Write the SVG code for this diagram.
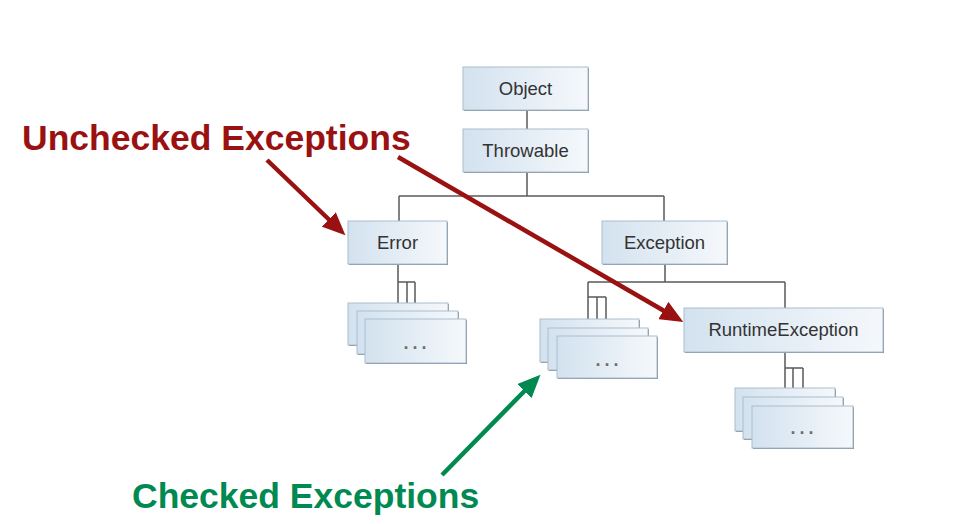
<svg xmlns="http://www.w3.org/2000/svg" width="959" height="524" viewBox="0 0 959 524">
<style>
.box{fill:url(#g);stroke:#a9bdcd;stroke-width:1}
.sh{fill:#7f8b97}
.lbl{font-family:"Liberation Sans",Arial,sans-serif;font-size:18.5px;fill:#333;text-anchor:middle}
.dots{font-family:"Liberation Sans",Arial,sans-serif;font-size:18px;font-weight:bold;fill:#6f6f6f;text-anchor:middle;letter-spacing:4px}
.ln{stroke:#5a5a5a;stroke-width:1.5;fill:none}
.big{font-family:"Liberation Sans",Arial,sans-serif;font-weight:bold;font-size:35.5px}
</style>
<defs>
<linearGradient id="g" x1="0" y1="0" x2="1" y2="0">
<stop offset="0" stop-color="#d3e2ef"/>
<stop offset="1" stop-color="#f5f8fb"/>
</linearGradient>
<marker id="ar" markerUnits="userSpaceOnUse" markerWidth="24" markerHeight="20" refX="3" refY="10" orient="auto">
<path d="M0,0 L23,10 L0,20 z" fill="#9a1111"/>
</marker>
<marker id="ag" markerUnits="userSpaceOnUse" markerWidth="24" markerHeight="20" refX="3" refY="10" orient="auto">
<path d="M0,0 L23,10 L0,20 z" fill="#008a52"/>
</marker>
</defs>
<g id="connectors">
<path class="ln" d="M527,110 V129"/>
<path class="ln" d="M527,172 V196 M399,196 H664 M399,196 V221 M664,196 V221"/>
<path class="ln" d="M398,264 V303 M398,282 H415 M407,282 V312 M415,282 V319"/>
<path class="ln" d="M665,264 V282 M588,282 H785 M588,282 V319 M588,297 H606 M597,297 V328 M606,297 V336 M785,282 V308"/>
<path class="ln" d="M785,352 V388 M785,368 H803 M793,368 V397 M803,368 V406"/>
</g>
<g id="node-object"><rect class="sh" x="464" y="68" width="125" height="43"/><rect class="box" x="463" y="67" width="125" height="43"/><text class="lbl" x="525.5" y="95">Object</text></g>
<g id="node-throwable"><rect class="sh" x="464" y="130" width="125" height="43"/><rect class="box" x="463" y="129" width="125" height="43"/><text class="lbl" x="525.5" y="157">Throwable</text></g>
<g id="node-error"><rect class="sh" x="349" y="222" width="99" height="43"/><rect class="box" x="348" y="221" width="99" height="43"/><text class="lbl" x="397.5" y="249">Error</text></g>
<g id="node-exception"><rect class="sh" x="603" y="222" width="125" height="43"/><rect class="box" x="602" y="221" width="125" height="43"/><text class="lbl" x="664.5" y="249">Exception</text></g>
<g id="node-runtime"><rect class="sh" x="685" y="309" width="199" height="44"/><rect class="box" x="684" y="308" width="199" height="44"/><text class="lbl" x="783.5" y="336">RuntimeException</text></g>
<g id="node-error-children">
<rect class="sh" x="349" y="304" width="100" height="42"/><rect class="box" x="348" y="303" width="100" height="42"/>
<rect class="sh" x="358" y="312" width="101" height="43"/><rect class="box" x="357" y="311" width="101" height="43"/>
<rect class="sh" x="366" y="320" width="101" height="44"/><rect class="box" x="365" y="319" width="101" height="44"/>
<text class="dots" x="417" y="349">...</text>
</g>
<g id="node-exception-children">
<rect class="sh" x="541" y="320" width="99" height="43"/><rect class="box" x="540" y="319" width="99" height="43"/>
<rect class="sh" x="549" y="329" width="100" height="42"/><rect class="box" x="548" y="328" width="100" height="42"/>
<rect class="sh" x="558" y="337" width="100" height="42"/><rect class="box" x="557" y="336" width="100" height="42"/>
<text class="dots" x="609" y="366">...</text>
</g>
<g id="node-runtime-children">
<rect class="sh" x="736" y="389" width="100" height="43"/><rect class="box" x="735" y="388" width="100" height="43"/>
<rect class="sh" x="744" y="398" width="100" height="42"/><rect class="box" x="743" y="397" width="100" height="42"/>
<rect class="sh" x="753" y="407" width="101" height="42"/><rect class="box" x="752" y="406" width="101" height="42"/>
<text class="dots" x="804" y="434">...</text>
</g>
<g id="annotations">
<text class="big" x="22" y="150" fill="#9a1111">Unchecked Exceptions</text>
<text class="big" x="132" y="508" fill="#008a52">Checked Exceptions</text>
<line x1="267" y1="160" x2="331" y2="221.5" stroke="#9a1111" stroke-width="4.5" marker-end="url(#ar)"/>
<line x1="398" y1="157" x2="666" y2="312" stroke="#9a1111" stroke-width="4.5" marker-end="url(#ar)"/>
<line x1="442" y1="475" x2="526.5" y2="389" stroke="#008a52" stroke-width="4.5" marker-end="url(#ag)"/>
</g>
</svg>
